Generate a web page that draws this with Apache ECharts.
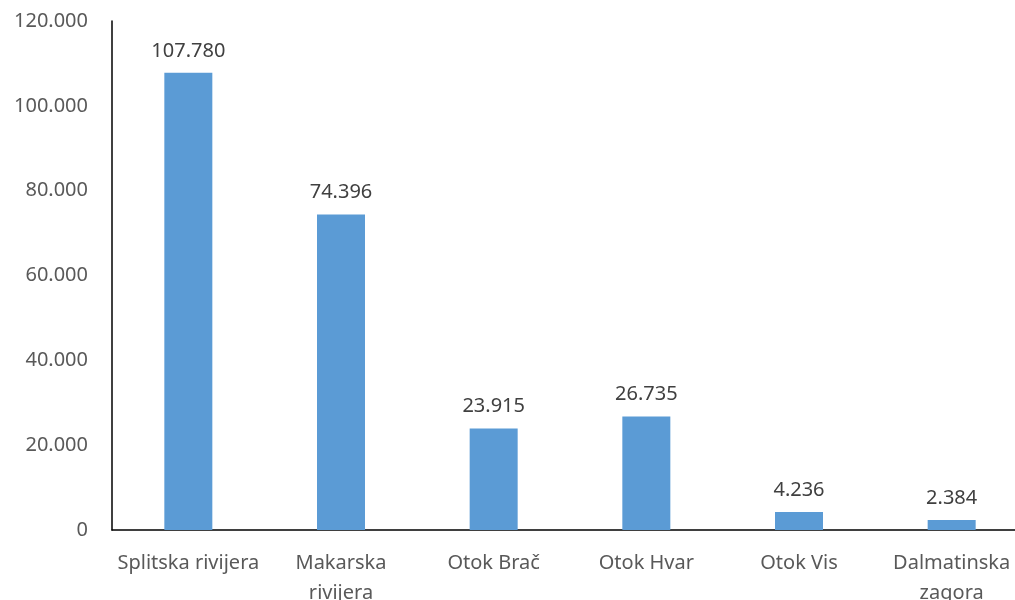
<!DOCTYPE html>
<html>
<head>
<meta charset="utf-8">
<script src="https://cdn.jsdelivr.net/npm/echarts@6/dist/echarts.min.js"></script>
<style>
  html, body { margin: 0; padding: 0; background: #fff; }
  #chart { width: 1015px; height: 600px; }
</style>
</head>
<body>
<div id="chart"></div>
<script>
// Regions of Split-Dalmatia county and their values
const categories = ['Splitska rivijera', 'Makarska\nrivijera', 'Otok Brač', 'Otok Hvar', 'Otok Vis', 'Dalmatinska\nzagora'];
const values = [107780, 74396, 23915, 26735, 4236, 2384];
const yTicks = { min: 0, max: 120000, interval: 20000 };

// Thousands separated with a dot (hr-HR style)
function fmt(v) {
  return String(Math.round(v)).replace(/\B(?=(\d{3})+(?!\d))/g, '.');
}

const font = 'Noto Sans';
const chart = echarts.init(document.getElementById('chart'));
chart.setOption({
  animation: false,
  grid: {
    left: 112, top: 21, width: 916, height: 509,
    containLabel: false, outerBoundsMode: 'none'
  },
  xAxis: {
    type: 'category',
    data: categories,
    axisLine: { lineStyle: { color: '#000', width: 1.5 } },
    axisTick: { show: false },
    axisLabel: {
      color: '#595959', fontFamily: font, fontSize: 20, lineHeight: 30,
      margin: 18, interval: 0
    }
  },
  yAxis: {
    type: 'value',
    min: yTicks.min, max: yTicks.max, interval: yTicks.interval,
    axisLine: { show: true, lineStyle: { color: '#000', width: 1.5 } },
    axisTick: { show: false },
    splitLine: { show: false },
    axisLabel: {
      color: '#595959', fontFamily: font, fontSize: 20, margin: 24,
      formatter: fmt
    }
  },
  series: [{
    type: 'bar',
    data: values,
    barWidth: 48,
    itemStyle: { color: '#5B9BD5' },
    label: {
      show: true, position: 'top', distance: 12,
      color: '#404040', fontFamily: font, fontSize: 20,
      formatter: p => fmt(p.value)
    }
  }]
});
</script>
</body>
</html>
